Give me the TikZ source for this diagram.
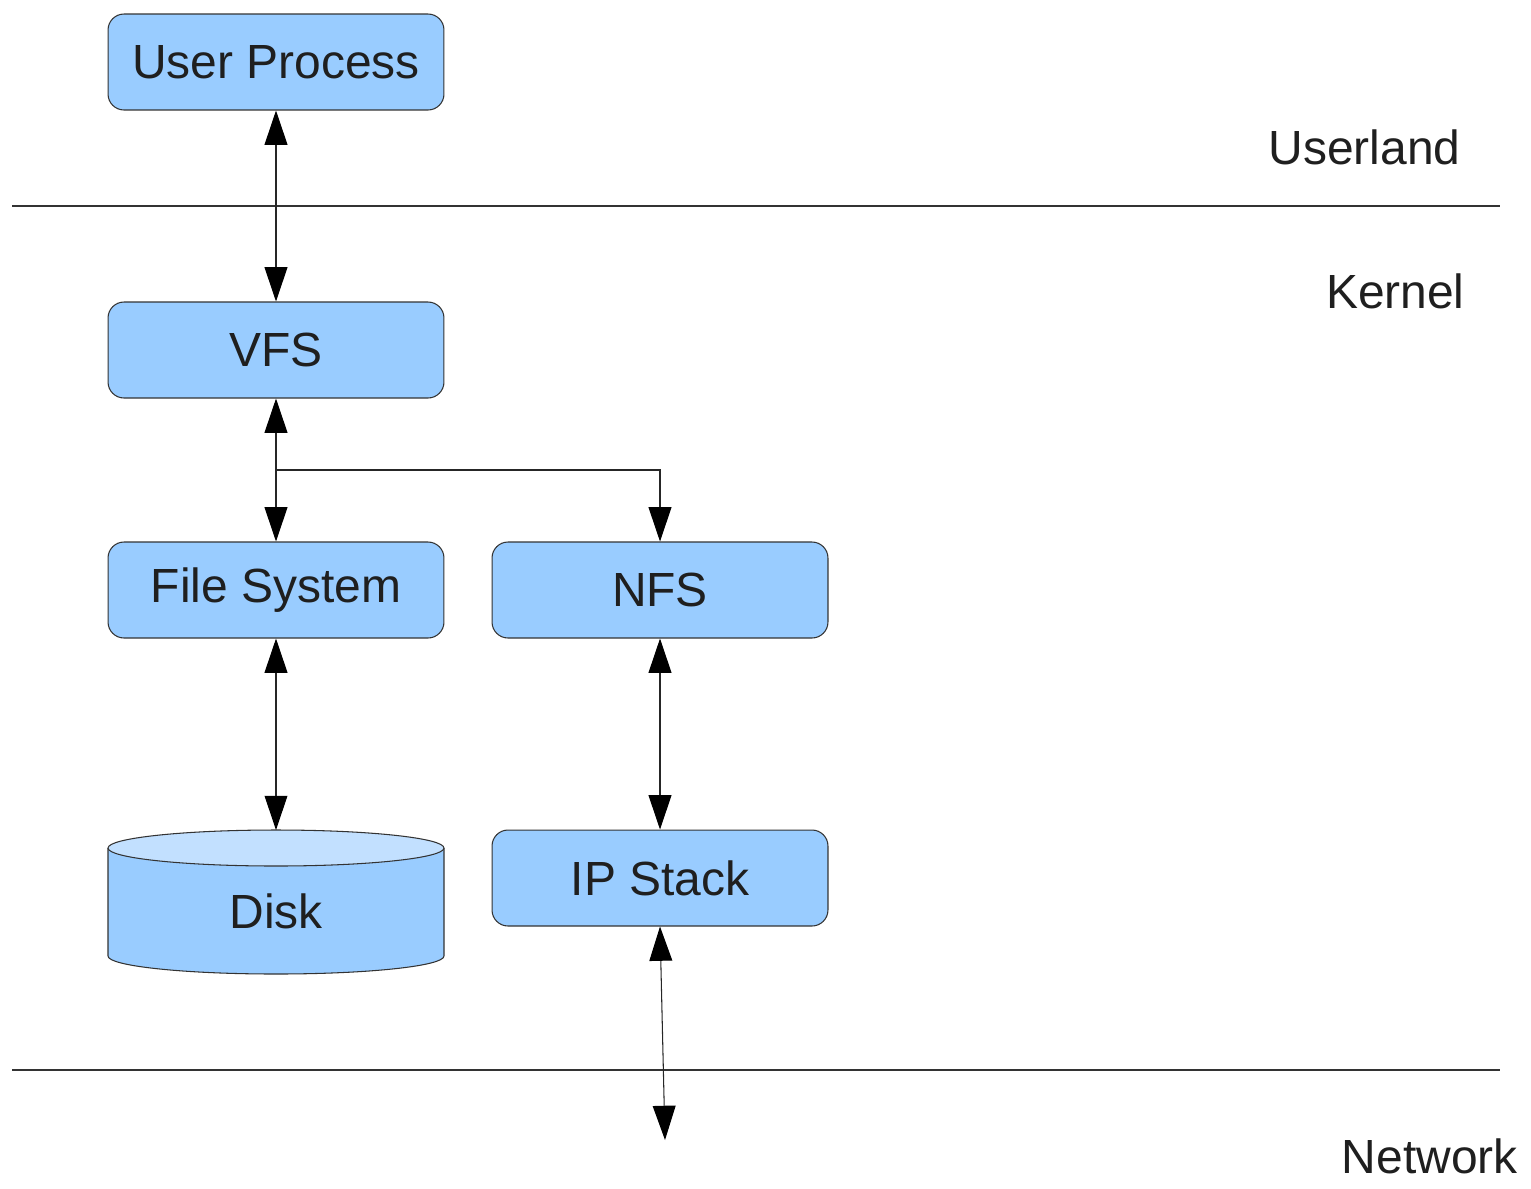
\documentclass[tikz,border=0pt]{standalone}
\usepackage{fontspec}
\setmainfont{Liberation Sans}
\usetikzlibrary{arrows.meta}
\definecolor{boxfill}{HTML}{99CCFF}
\definecolor{disktop}{HTML}{C2E0FF}
\definecolor{edge}{HTML}{333333}
\begin{document}
\begin{tikzpicture}[x=0.02cm,y=-0.02cm,
  txt/.style={font=\fontsize{27.3}{33}\selectfont, text=black!88},
  block/.style={txt, draw=edge, line width=0.6pt, fill=boxfill, rounded corners=0.32cm,
    minimum width=6.72cm, minimum height=1.92cm, inner sep=0pt},
  head/.tip={Triangle[width=13pt,length=19.5pt,fill=black,color=black]},
  link/.style={line width=0.6pt, draw=black!85, {head}-{head}},
  oneway/.style={line width=0.6pt, draw=black!85, -{head}},
  sep/.style={line width=0.6pt, draw=black!80},
  zone/.style={txt, anchor=east, inner sep=0pt}]
\useasboundingbox (0,0) rectangle (1531,1188);

% layer separators
\coordinate (s1a) at (12,206);  \coordinate (s1b) at (1500,206);
\coordinate (s2a) at (12,1070); \coordinate (s2b) at (1500,1070);
\draw[sep] (s1a) -- (s1b);
\draw[sep] (s2a) -- (s2b);

% layer names
\node[zone] (userland) at (1461,147) {Userland};
\node[zone] (kernel) at (1465,291) {Kernel};
\node[zone] (network) at (1518,1156) {Network};

% components
\node[block] (user) at (276,62) {User Process};
\node[block] (vfs) at (276,350) {VFS};
\node[block] (fs) at (276,590) {File System};
\node[block] (nfs) at (660,590) {NFS};
\node[block] (ip) at (660,878) {IP Stack};

% disk cylinder
\fill[boxfill] (108,848) -- (108,956) arc[start angle=180,end angle=0,x radius=168,y radius=18] -- (444,848) -- cycle;
\draw[edge, line width=0.6pt] (108,848) -- (108,956) arc[start angle=180,end angle=0,x radius=168,y radius=18] -- (444,848);
\draw[edge, line width=0.6pt, fill=disktop] (276,848) ellipse[x radius=168, y radius=18];
\coordinate (disk top) at (276,830);
\node[txt] (disk) at (276,911) {Disk};

% connectors
\coordinate (branch) at (276,470);
\coordinate (net) at (665,1140);
\draw[link] (user.south) -- (vfs.north);
\draw[link] (vfs.south) -- (fs.north);
\draw[oneway] (branch) -| (nfs.north);
\draw[link] (fs.south) -- (disk top);
\draw[link] (nfs.south) -- (ip.north);
\draw[link] (ip.south) -- (net);
\end{tikzpicture}
\end{document}
